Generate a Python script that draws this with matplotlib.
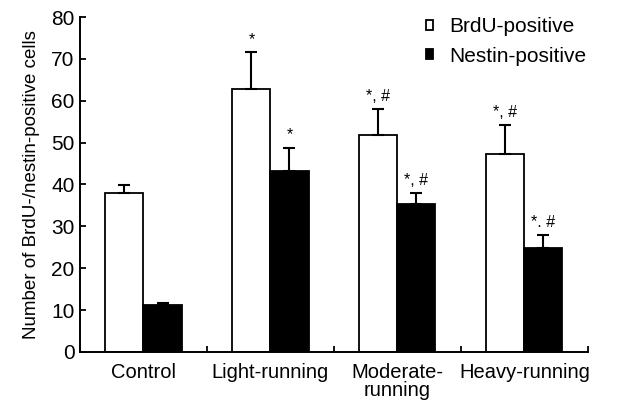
import matplotlib
matplotlib.use("Agg")
import matplotlib.pyplot as plt
import numpy as np

categories = ["Control", "Light-running", "Moderate-\nrunning", "Heavy-running"]
brdu = [38.0, 62.7, 51.9, 47.3]
brdu_err = [1.9, 8.9, 6.2, 6.8]
nestin = [11.2, 43.2, 35.3, 24.9]
nestin_err = [0.6, 5.6, 2.6, 3.0]
brdu_marks = ["", "*", "*, #", "*, #"]
nestin_marks = ["", "*", "*, #", "*. #"]
y_ticks = [0, 10, 20, 30, 40, 50, 60, 70, 80]

plt.rcParams['font.family'] = ['Liberation Sans', 'DejaVu Sans']

fig = plt.figure(figsize=(6.17, 4.05), dpi=100)
ax = fig.add_axes([0.1297, 0.131, 0.823, 0.827])

x = np.arange(len(categories))
w = 0.3
ax.bar(x - w/2, brdu, w, color="white", edgecolor="black", linewidth=1.3,
       yerr=[[0]*4, brdu_err], error_kw=dict(ecolor="black", elinewidth=1.5, capsize=4.5, capthick=1.5),
       label="BrdU-positive", zorder=2)
ax.bar(x + w/2, nestin, w, color="black", edgecolor="black", linewidth=1.3,
       yerr=[[0]*4, nestin_err], error_kw=dict(ecolor="black", elinewidth=1.5, capsize=4.5, capthick=1.5),
       label="Nestin-positive", zorder=2)

for i in range(len(categories)):
    if brdu_marks[i]:
        ax.text(x[i] - w/2, brdu[i] + brdu_err[i] + 1.2, brdu_marks[i], ha="center", va="bottom", fontsize=11.5)
    if nestin_marks[i]:
        ax.text(x[i] + w/2, nestin[i] + nestin_err[i] + 1.2, nestin_marks[i], ha="center", va="bottom", fontsize=11.5)

ax.set_xlim(-0.5, len(categories) - 0.5)
ax.set_ylim(0, 80)
ax.set_yticks(y_ticks)
ax.tick_params(axis="y", labelsize=15, direction="in", length=4, width=1.3, pad=4)
ax.set_xticks(np.arange(len(categories) + 1) - 0.5, minor=False)
ax.set_xticklabels([])
ax.set_xticks(x, minor=True)
ax.set_xticklabels(categories, minor=True, fontsize=14.5, linespacing=0.95)
ax.tick_params(axis="x", which="major", direction="in", length=4, width=1.3)
ax.tick_params(axis="x", which="minor", length=0, pad=8)

for s in ["top", "right"]:
    ax.spines[s].set_visible(False)
for s in ["left", "bottom"]:
    ax.spines[s].set_linewidth(1.4)

ax.set_ylabel("Number of BrdU-/nestin-positive cells", fontsize=13.5, labelpad=8)

ax.legend(loc="upper right", bbox_to_anchor=(1.035, 1.055), frameon=False, fontsize=15,
          handlelength=0.35, handleheight=0.35, handletextpad=0.8, labelspacing=0.5)

fig.savefig("out.png", dpi=100)
